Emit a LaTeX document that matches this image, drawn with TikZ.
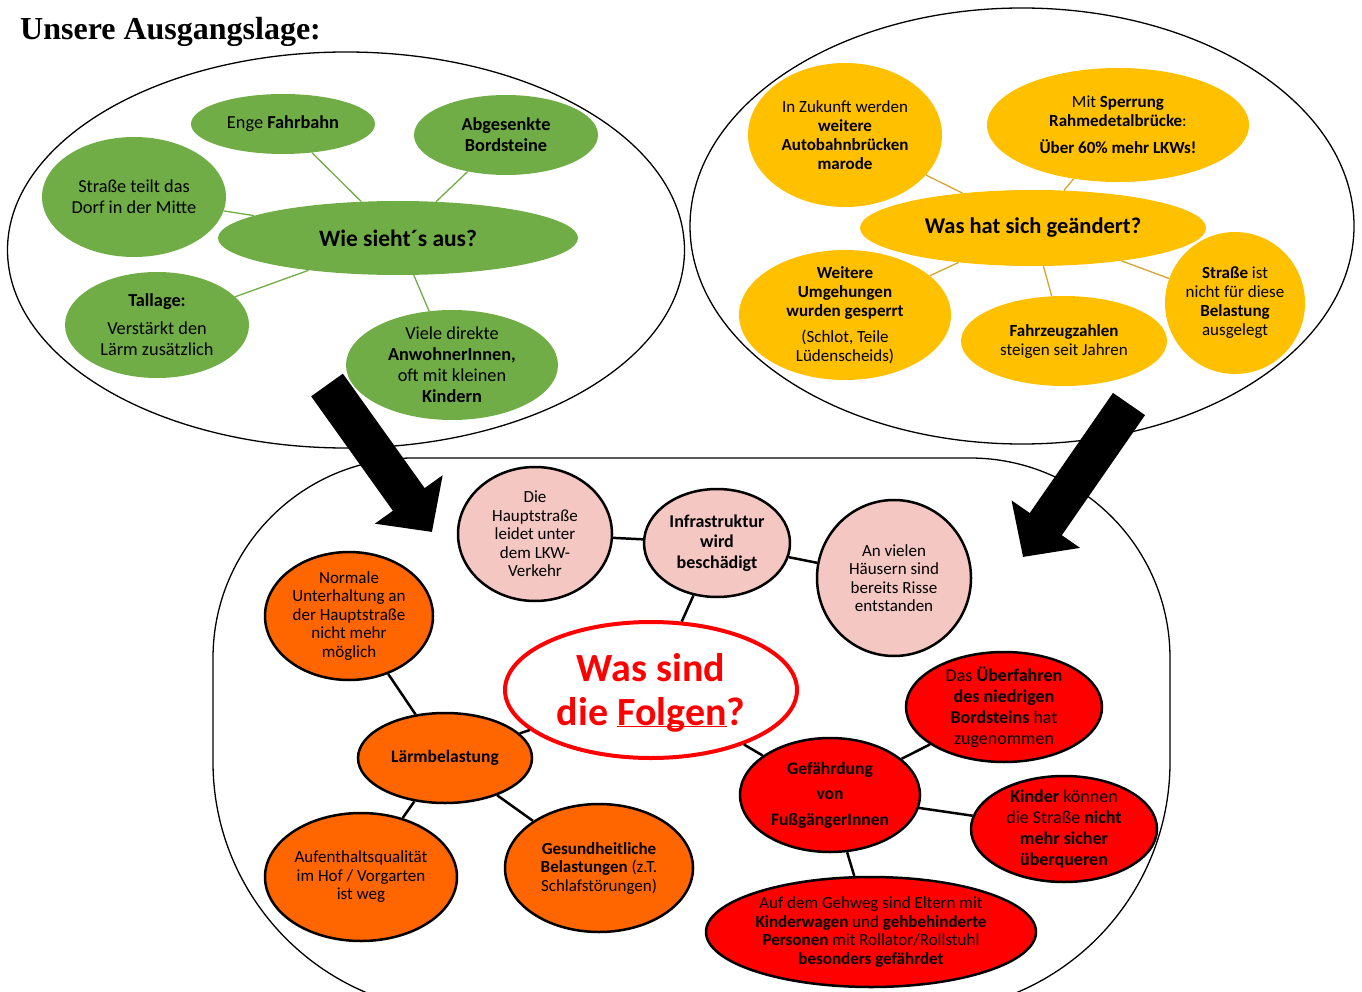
\documentclass[tikz,border=0pt]{standalone}
\usepackage{fontspec}
\setmainfont{Carlito}
\newfontfamily\titlefont{Liberation Serif}
\usetikzlibrary{shapes.geometric,arrows.meta}

\definecolor{ggreen}{HTML}{70AD47}
\definecolor{gyellow}{HTML}{FFC000}
\definecolor{yline}{HTML}{D4A530}
\definecolor{gpink}{HTML}{F4C7C3}
\definecolor{gorange}{HTML}{FF6600}
\definecolor{gred}{HTML}{FF0000}

\begin{document}
\begin{tikzpicture}[x=1pt,y=-1pt,
	bubble/.style={ellipse,inner sep=-8pt,align=center},
	bigarrow/.style={line width=39pt,-{Triangle[length=40pt,width=81pt]}}]
	\useasboundingbox (0,0) rectangle (1362,992);

	\node[anchor=base west,inner sep=0pt,font=\titlefont\bfseries\fontsize{32}{36}\selectfont] (title) at (20,40) {Unsere Ausgangslage:};

	% outlines
	\node[ellipse,draw,line width=1.3pt,inner sep=0pt,minimum width=677pt,minimum height=396pt] (leftbox) at (346,250) {};
	\node[ellipse,draw,line width=1.3pt,inner sep=0pt,minimum width=664pt,minimum height=436pt] (rightbox) at (1022,226) {};
	\draw[line width=1.3pt] (213,658) .. controls (213,547.5) and (302.5,458) .. (413,458) -- (970,458)
		.. controls (1080.5,458) and (1170,547.5) .. (1170,658) -- (1170,762)
		.. controls (1170,900) and (1058,1012) .. (920,1012) -- (463,1012)
		.. controls (325,1012) and (213,900) .. (213,762) -- cycle;

	% arrows
	\coordinate (a1) at (327,385);
	\coordinate (a2) at (432,532);
	\coordinate (b1) at (1129,404);
	\coordinate (b2) at (1023,557);
	\draw[bigarrow] (a1) -- (a2);
	\draw[bigarrow] (b1) -- (b2);

	\begin{scope}
	\tikzset{gb/.style={bubble,fill=ggreen,font=\fontsize{18.3}{21}\selectfont},
		glink/.style={draw=ggreen,line width=1.3pt}}
	\node[gb,minimum width=360pt,minimum height=74pt,font=\bfseries\fontsize{23.5}{26}\selectfont] (wie) at (398,238) {Wie sieht´s aus?};
	\node[gb,minimum width=184pt,minimum height=60pt] (enge) at (283,124) {Enge \textbf{Fahrbahn}};
	\node[gb,minimum width=184pt,minimum height=80pt,font=\bfseries\fontsize{18.3}{21}\selectfont] (abges) at (506,135) {Abgesenkte\\Bordsteine};
	\node[gb,minimum width=184pt,minimum height=120pt] (teilt) at (134,197) {Straße teilt das\\Dorf in der Mitte};
	\node[gb,minimum width=184pt,minimum height=106pt] (tallage) at (157,325) {\textbf{Tallage:}\\[7pt]Verstärkt den\\Lärm zusätzlich};
	\node[gb,minimum width=212pt,minimum height=110pt] (viele) at (452,365) {Viele direkte\\\textbf{AnwohnerInnen,}\\oft mit kleinen\\\textbf{Kindern}};
	\draw[glink] (enge) -- (wie);
	\draw[glink] (abges) -- (wie);
	\draw[glink] (teilt) -- (wie);
	\draw[glink] (tallage) -- (wie);
	\draw[glink] (viele) -- (wie);
	\end{scope}

	\begin{scope}
	\tikzset{yb/.style={bubble,fill=gyellow,font=\fontsize{17}{19}\selectfont},
		ylink/.style={draw=yline,line width=1.3pt}}
	\node[yb,minimum width=346pt,minimum height=76pt,font=\bfseries\fontsize{22.5}{25}\selectfont] (geaendert) at (1033,228) {Was hat sich geändert?};
	\node[yb,minimum width=194pt,minimum height=144pt] (zukunft) at (845,135) {In Zukunft werden\\\textbf{weitere}\\\textbf{Autobahnbrücken}\\\textbf{marode}};
	\node[yb,minimum width=262pt,minimum height=114pt] (sperrung) at (1118,125) {Mit \textbf{Sperrung}\\\textbf{Rahmedetalbrücke}:\\[8pt]\textbf{Über 60\% mehr LKWs!}};
	\node[yb,minimum width=212pt,minimum height=130pt] (umgeh) at (845,315) {\textbf{Weitere}\\\textbf{Umgehungen}\\\textbf{wurden gesperrt}\\[7pt](Schlot, Teile\\Lüdenscheids)};
	\node[yb,minimum width=206pt,minimum height=90pt] (fahrz) at (1064,341) {\textbf{Fahrzeugzahlen}\\steigen seit Jahren};
	\node[yb,minimum width=140pt,minimum height=142pt] (ausgelegt) at (1235,303) {\textbf{Straße} ist\\nicht für diese\\\textbf{Belastung}\\ausgelegt};
	\draw[ylink] (zukunft) -- (geaendert);
	\draw[ylink] (sperrung) -- (geaendert);
	\draw[ylink] (umgeh) -- (geaendert);
	\draw[ylink] (fahrz) -- (geaendert);
	\draw[ylink] (ausgelegt) -- (geaendert);
	\end{scope}

	\begin{scope}
	\tikzset{fb/.style={bubble,draw=black,line width=2.5pt,font=\fontsize{17}{18.5}\selectfont},
		blink/.style={draw=black,line width=2.5pt}}
	\node[bubble,draw=gred,line width=4pt,fill=white,text=gred,minimum width=292pt,minimum height=136pt,font=\bfseries\fontsize{40}{44}\selectfont] (folgen) at (651,690) {Was sind\\die \underline{\smash{Folgen}}?};
	\node[fb,fill=gpink,minimum width=154pt,minimum height=134pt] (hauptstr) at (535,534) {Die\\Hauptstraße\\leidet unter\\dem LKW-\\Verkehr};
	\node[fb,fill=gpink,minimum width=146pt,minimum height=108pt,font=\bfseries\fontsize{18}{20.5}\selectfont] (infra) at (717,543) {Infrastruktur\\wird\\beschädigt};
	\node[fb,fill=gpink,minimum width=154pt,minimum height=156pt] (risse) at (894,578) {An vielen\\Häusern sind\\bereits Risse\\entstanden};
	\node[fb,fill=gorange,minimum width=168pt,minimum height=128pt] (normale) at (349,616) {Normale\\Unterhaltung an\\der Hauptstraße\\nicht mehr\\möglich};
	\node[fb,fill=gorange,minimum width=174pt,minimum height=90pt,font=\bfseries\fontsize{17.5}{19}\selectfont] (laerm) at (445,758) {Lärmbelastung};
	\node[fb,fill=gorange,minimum width=192pt,minimum height=128pt] (aufent) at (361,877) {Aufenthaltsqualität\\im Hof / Vorgarten\\ist weg};
	\node[fb,fill=gorange,minimum width=188pt,minimum height=128pt] (gesund) at (599,868) {\textbf{Gesundheitliche}\\\textbf{Belastungen} (z.T.\\Schlafstörungen)};
	\node[fb,fill=gred,minimum width=196pt,minimum height=110pt,font=\fontsize{18}{21}\selectfont] (ueberf) at (1004,707) {Das \textbf{Überfahren}\\\textbf{des niedrigen}\\\textbf{Bordsteins} hat\\zugenommen};
	\node[fb,fill=gred,minimum width=180pt,minimum height=114pt,font=\bfseries\fontsize{17.5}{25.5}\selectfont] (gefaehr) at (830,795) {Gefährdung\\von\\FußgängerInnen};
	\node[fb,fill=gred,minimum width=186pt,minimum height=106pt,font=\fontsize{18}{21}\selectfont] (kinder) at (1064,829) {\textbf{Kinder} können\\die Straße \textbf{nicht}\\\textbf{mehr sicher}\\\textbf{überqueren}};
	\node[fb,fill=gred,minimum width=330pt,minimum height=110pt] (gehweg) at (871,932) {Auf dem Gehweg sind Eltern mit\\\textbf{Kinderwagen} und \textbf{gehbehinderte}\\\textbf{Personen} mit Rollator/Rollstuhl\\\textbf{besonders gefährdet}};
	\draw[blink] (hauptstr) -- (infra);
	\draw[blink] (infra) -- (risse);
	\draw[blink] (infra) -- (folgen);
	\draw[blink] (normale) -- (laerm);
	\draw[blink] (laerm) -- (folgen);
	\draw[blink] (laerm) -- (aufent);
	\draw[blink] (laerm) -- (gesund);
	\draw[blink] (folgen) -- (gefaehr);
	\draw[blink] (gefaehr) -- (ueberf);
	\draw[blink] (gefaehr) -- (kinder);
	\draw[blink] (gefaehr) -- (gehweg);
	\end{scope}

\end{tikzpicture}
\end{document}
